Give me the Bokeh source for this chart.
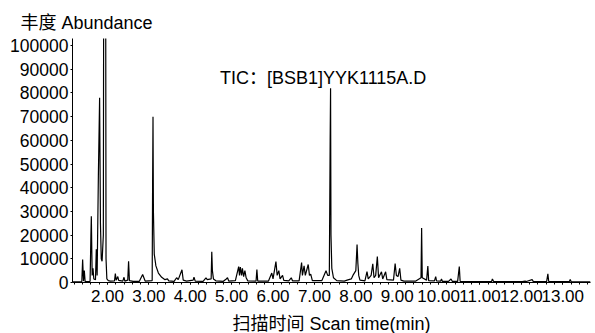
import numpy as np
from bokeh.plotting import figure
from bokeh.models import FixedTicker, PrintfTickFormatter, Label, Range1d
from bokeh.embed import file_html
from bokeh.resources import INLINE

# Chromatogram trace (time in min, abundance)
scan_time = [
    1.16, 1.38, 1.40, 1.42, 1.44, 1.46, 1.58, 1.60, 1.61, 1.63, 1.65, 1.67,
    1.71, 1.73, 1.75, 1.78, 1.81, 1.83, 1.85, 1.87, 1.90, 1.91, 1.935, 1.955,
    1.965, 1.985, 2.02, 2.07, 2.17, 2.19, 2.21, 2.25, 2.27, 2.37, 2.40, 2.42,
    2.49, 2.51, 2.53, 2.62, 2.77, 2.85, 2.88, 2.91, 3.08, 3.09, 3.10, 3.11,
    3.13, 3.17, 3.23, 3.31, 3.39, 3.45, 3.48, 3.61, 3.67, 3.71, 3.80, 3.83,
    3.91, 4.07, 4.09, 4.12, 4.31, 4.38, 4.41, 4.505, 4.52, 4.535, 4.56, 4.62,
    4.80, 4.87, 4.90, 4.93, 5.09, 5.17, 5.19, 5.21, 5.24, 5.26, 5.29, 5.32,
    5.35, 5.39, 5.59, 5.61, 5.63, 5.89, 5.97, 6.00, 6.07, 6.10, 6.14, 6.17,
    6.23, 6.26, 6.38, 6.44, 6.47, 6.63, 6.69, 6.71, 6.75, 6.78, 6.85, 6.88,
    6.91, 6.95, 7.18, 7.28, 7.32, 7.36, 7.38, 7.39, 7.40, 7.42, 7.46, 7.54,
    7.72, 7.79, 7.89, 7.93, 8.00, 8.03, 8.05, 8.07, 8.10, 8.22, 8.27, 8.30,
    8.37, 8.41, 8.44, 8.48, 8.52, 8.55, 8.62, 8.65, 8.72, 8.75, 8.91, 8.95,
    8.98, 9.02, 9.06, 9.09, 9.16, 9.45, 9.575, 9.59, 9.605, 9.71, 9.74, 9.76,
    9.90, 9.93, 9.95, 10.05, 10.07, 10.09, 10.24, 10.30, 10.33, 10.46, 10.50,
    10.52, 10.84, 11.28, 11.30, 11.33, 12.02, 12.09, 12.12, 12.26, 12.29, 12.61,
    12.64, 12.66, 13.16, 13.18, 13.20, 13.67,
]
abundance = [
    300, 400, 9700, 600, 5000, 400, 500, 20000, 28000, 3000, 6000, 1500,
    1200, 14000, 3000, 45000, 78000, 25000, 10000, 9000, 20000, 150000, 150000, 150000,
    10000, 1500, 800, 600, 700, 3800, 1000, 2500, 900, 600, 2200, 600,
    1000, 9000, 800, 500, 500, 3400, 2000, 600, 800, 40000, 70000, 30000,
    12000, 7000, 4000, 2200, 1200, 1500, 700, 500, 2000, 1200, 5400, 1000,
    600, 1000, 2200, 600, 500, 2000, 1200, 1500, 13000, 5000, 1500, 700,
    500, 1500, 2000, 600, 800, 6700, 3000, 6500, 3000, 6000, 2500, 5000,
    2000, 700, 600, 5500, 600, 600, 4000, 1500, 8800, 3000, 5000, 1500,
    3000, 900, 700, 2000, 700, 700, 8400, 3000, 7000, 3000, 7600, 3000,
    3500, 800, 800, 5000, 3000, 3000, 60000, 82000, 20000, 6000, 2000, 800,
    600, 1000, 1500, 3000, 5000, 16000, 8000, 3000, 1000, 700, 4600, 1500,
    3000, 7900, 2000, 3000, 11000, 2000, 4500, 1500, 4500, 1200, 1000, 8000,
    3000, 2500, 6000, 1000, 600, 600, 2000, 23000, 2000, 1000, 6900, 800,
    700, 2500, 700, 600, 1500, 500, 500, 1500, 500, 500, 6700,
    500, 400, 400, 1500, 400, 400, 600, 400, 1200, 400, 400,
    3700, 400, 400, 1300, 400, 300,
]

x_ticks = [2, 3, 4, 5, 6, 7, 8, 9, 10, 11, 12, 13]
y_ticks = [0, 10000, 20000, 30000, 40000, 50000, 60000, 70000, 80000, 90000, 100000]

FONT = "'Liberation Sans', 'Noto Sans CJK SC', sans-serif"

p = figure(frame_width=518, frame_height=244, output_backend="svg",
           toolbar_location=None,
           x_range=Range1d(1.155, 13.67), y_range=Range1d(0, 103000),
           min_border_left=72, min_border_right=5, min_border_top=38,
           min_border_bottom=51)
p.outline_line_color = None
p.grid.visible = False
p.background_fill_color = "white"
p.border_fill_color = "white"

p.line(scan_time, abundance, line_color="black", line_width=1.2)

p.title.text = "丰度 Abundance"
p.title.text_font = FONT
p.title.text_font_size = "18px"
p.title.text_font_style = "normal"
p.title.text_color = "black"
p.title.align = "left"
p.title.offset = -52
p.title.standoff = 12

minor = [round(v, 2) for v in np.arange(1.2, 13.61, 0.2)]
p.xaxis.ticker = FixedTicker(ticks=x_ticks, minor_ticks=minor)
p.xaxis.formatter = PrintfTickFormatter(format="%.2f")
p.yaxis.ticker = FixedTicker(ticks=y_ticks, minor_ticks=[])
p.yaxis.formatter = PrintfTickFormatter(format="%d")

for ax in (p.xaxis[0], p.yaxis[0]):
    ax.major_label_text_font = FONT
    ax.major_label_text_color = "black"
    ax.axis_line_color = "black"
    ax.axis_line_width = 1
    ax.major_tick_line_color = "black"
    ax.major_tick_in = 0
    ax.major_tick_out = 2
    ax.minor_tick_in = 0
    ax.minor_tick_out = 2
    ax.minor_tick_line_color = "black"

p.yaxis.major_label_text_font_size = "17.5px"
p.xaxis.major_label_text_font_size = "17px"
p.yaxis.major_label_standoff = 2
p.xaxis.major_label_standoff = 5
p.xaxis.axis_label = "扫描时间 Scan time(min)"
p.xaxis.axis_label_text_font = FONT
p.xaxis.axis_label_text_font_size = "18px"
p.xaxis.axis_label_text_font_style = "normal"
p.xaxis.axis_label_text_color = "black"
p.xaxis.axis_label_standoff = 9

p.add_layout(Label(x=7.21, y=86500, text="TIC：[BSB1]YYK1115A.D",
                   text_align="center", text_baseline="middle",
                   text_font=FONT, text_font_size="18px", text_color="black"))

open("out.html", "w").write(file_html(p, INLINE))
